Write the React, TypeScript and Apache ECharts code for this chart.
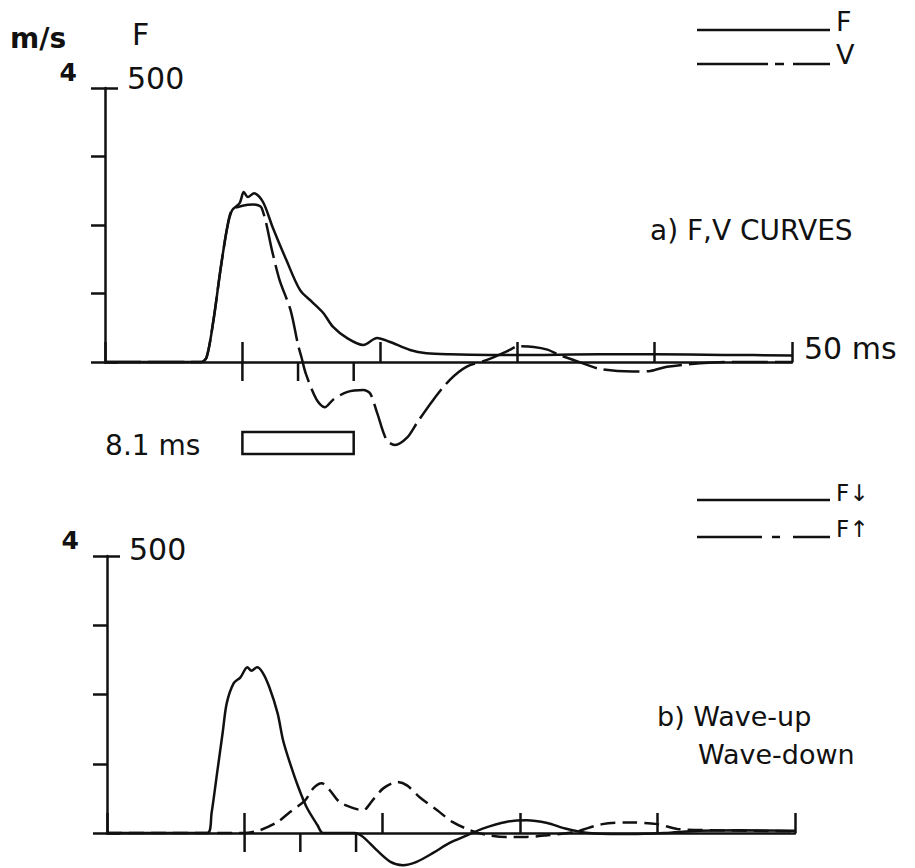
import React, { useEffect, useRef } from 'react';
import * as echarts from 'echarts';

// ---------- data (panel a: F, V curves) ----------
const tForce = [0, 7.0, 7.4, 7.9, 8.4, 8.9, 9.25, 9.8, 10.1, 10.4, 10.85, 11.5, 12.2, 13.2, 14.2, 15.1, 15.9, 16.6, 17.6, 18.8, 19.8, 20.7, 22.2, 23.4, 25.1, 28, 32, 36, 40, 45, 50];
const forceF = [0, 0, 9, 77, 168, 246, 277, 290, 310, 301, 308, 292, 246, 186, 131, 109, 89, 64, 44, 31, 44, 37, 22, 16, 14, 13, 13, 14, 14, 13, 12];

const tVel = [0, 7.0, 7.4, 7.9, 8.4, 8.9, 9.25, 10.0, 10.8, 11.4, 12.2, 12.7, 13.5, 14.05, 14.3, 14.6, 15.4, 16.0, 16.6, 17.6, 18.8, 19.3, 19.8, 20.5, 21.1, 22.0, 22.7, 23.9, 25.1, 26.3, 27.8, 29.5, 30.0, 31.2, 32.2, 33.1, 34.1, 36.0, 38.4, 39.7, 40.9, 43.3, 45.7, 50];
const velocityV = [0, 0, 0.07, 0.62, 1.34, 1.97, 2.22, 2.28, 2.30, 2.25, 1.59, 1.20, 0.76, 0.25, 0.07, -0.16, -0.55, -0.66, -0.55, -0.44, -0.41, -0.46, -0.74, -1.14, -1.21, -1.10, -0.89, -0.55, -0.26, -0.07, 0.03, 0.18, 0.23, 0.22, 0.18, 0.10, 0.03, -0.10, -0.14, -0.13, -0.07, -0.02, 0, 0];

// ---------- data (panel b: wave-down / wave-up) ----------
const tDown = [0, 7.3, 7.6, 8.0, 8.4, 8.7, 9.2, 9.7, 10.2, 10.5, 10.9, 11.3, 11.8, 12.4, 12.8, 13.3, 13.9, 14.5, 15.3, 15.7, 18.0, 18.6, 19.6, 20.6, 21.5, 22.5, 23.7, 24.9, 26.2, 27.3, 29, 30.5, 32, 33.3, 35, 38, 40.5, 43, 46, 50];
const waveDown = [0, 0, 36, 108, 180, 234, 270, 281, 299, 293, 299, 290, 263, 216, 167, 126, 83, 47, 14, 0, 0, -7, -31, -52, -58, -52, -36, -18, -4, 8, 20, 23, 18, 8, 0, -2, 0, 4, 5, 4];

const tUp = [0, 9.9, 11.1, 12.4, 13.3, 14.4, 15.0, 15.6, 16.2, 16.9, 17.9, 18.6, 19.3, 20.1, 21.1, 21.8, 22.7, 24.0, 25.1, 26.4, 27.5, 29, 30.5, 32, 34, 36, 38, 40, 41.5, 44, 47, 50];
const waveUp = [0, 0, 5, 20, 38, 59, 81, 90, 77, 56, 45, 41, 59, 81, 92, 86, 65, 41, 20, 5, -3, -7, -7, -4, 2, 16, 19, 16, 7, 5, 4, 3];

// ---------- axis / annotation values ----------
const downTicks = [10, 14.05, 18.1];
const scaleBar = [10, 18.1];
const scaleBarLabel = '8.1 ms';
const timeAxisName = '50 ms';
const velTopLabel = '4';
const forceTopLabel = '500';

const FONT = '"DejaVu Sans", sans-serif';
const INK = '#111';

const zip = (t: number[], v: number[]) => t.map((x, i) => [x, v[i]]);

function buildOption(): any {
  const xAxis = [0, 1].map((i) => ({
    gridIndex: i,
    type: 'value',
    min: 0,
    max: 50,
    interval: 10,
    axisLine: { lineStyle: { color: INK, width: 2.5 } },
    axisTick: { inside: true, length: 20, lineStyle: { color: INK, width: 2.5 } },
    axisLabel: { show: false },
    splitLine: { show: false },
    name: i === 0 ? timeAxisName : '',
    nameLocation: 'end',
    nameGap: 12,
    nameTextStyle: { fontFamily: FONT, fontSize: 30, color: INK, verticalAlign: 'bottom', lineHeight: 28 },
  }));

  const velAxis = (grid: number) => ({
    gridIndex: grid,
    type: 'value',
    position: 'left',
    offset: 0,
    min: 0,
    max: 4,
    interval: 1,
    axisLine: { show: true, lineStyle: { color: INK, width: 2.5 } },
    axisTick: { show: true, inside: false, length: 14, lineStyle: { color: INK, width: 2.5 } },
    axisLabel: {
      formatter: (v: number) => (v === 4 ? velTopLabel : ''),
      fontFamily: FONT,
      fontWeight: 'bold',
      fontSize: 25,
      color: INK,
      margin: 28,
      verticalAlign: 'bottom',
      lineHeight: 32,
    },
    splitLine: { show: false },
  });
  const forceAxis = (grid: number, lh: number) => ({
    gridIndex: grid,
    type: 'value',
    position: 'left',
    offset: 0,
    min: 0,
    max: 500,
    interval: 500,
    axisLine: { show: false },
    axisTick: { show: true, inside: true, length: 13, lineStyle: { color: INK, width: 2.5 } },
    axisLabel: {
      inside: true,
      formatter: (v: number) => (v === 500 ? forceTopLabel : ''),
      fontFamily: FONT,
      fontSize: 30,
      color: INK,
      margin: 22,
      verticalAlign: 'bottom',
      lineHeight: lh,
    },
    splitLine: { show: false },
  });

  const curve = (name: string, xi: number, yi: number, data: number[][], dash: any) => ({
    name,
    type: 'line',
    xAxisIndex: xi,
    yAxisIndex: yi,
    data,
    symbol: 'none',
    showSymbol: false,
    smooth: 0.3,
    clip: false,
    silent: true,
    lineStyle: { color: INK, width: 2.5, type: dash },
    z: 5,
  });

  const tickSeries = (xi: number, yi: number) => ({
    type: 'custom',
    xAxisIndex: xi,
    yAxisIndex: yi,
    clip: false,
    silent: true,
    data: downTicks.map((t) => [t, 0]),
    renderItem: (_p: any, api: any) => {
      const p = api.coord([api.value(0), 0]);
      return {
        type: 'line',
        shape: { x1: p[0], y1: p[1], x2: p[0], y2: p[1] + 19 },
        style: { stroke: INK, lineWidth: 2.5 },
      };
    },
  });

  const legendLine = (x1: number, x2: number, y: number) => ({
    type: 'line',
    shape: { x1, y1: y, x2, y2: y },
    style: { stroke: INK, lineWidth: 2.5 },
  });
  const txt = (text: string, x: number, y: number, font: string, align = 'left') => ({
    type: 'text',
    x,
    y,
    style: { text, font, fill: INK, align, verticalAlign: 'middle' },
  });

  return {
    animation: false,
    backgroundColor: '#fff',
    grid: [
      { left: 105, top: 88, width: 687, height: 274 },
      { left: 107, top: 556, width: 688, height: 277 },
    ],
    xAxis,
    yAxis: [velAxis(0), forceAxis(0, 20), velAxis(1), forceAxis(1, 14)],
    series: [
      curve('F', 0, 1, zip(tForce, forceF), 'solid'),
      curve('V', 0, 0, zip(tVel, velocityV), [36, 7]),
      curve('F↓', 1, 3, zip(tDown, waveDown), 'solid'),
      curve('F↑', 1, 3, zip(tUp, waveUp), [15, 7]),
      tickSeries(0, 1),
      tickSeries(1, 3),
      {
        type: 'custom',
        xAxisIndex: 0,
        yAxisIndex: 1,
        clip: false,
        silent: true,
        data: [[scaleBar[0], scaleBar[1]]],
        renderItem: (_p: any, api: any) => {
          const a = api.coord([api.value(0), 0]);
          const b = api.coord([api.value(1), 0]);
          return {
            type: 'group',
            children: [
              {
                type: 'rect',
                shape: { x: a[0], y: a[1] + 70, width: b[0] - a[0], height: 22 },
                style: { fill: '#fff', stroke: INK, lineWidth: 2.5 },
              },
              {
                type: 'text',
                style: {
                  text: scaleBarLabel,
                  x: a[0] - 42,
                  y: a[1] + 83,
                  align: 'right',
                  verticalAlign: 'middle',
                  font: `28px ${FONT}`,
                  fill: INK,
                },
              },
            ],
          };
        },
      },
    ],
    graphic: [
      txt('m/s', 10, 38, `bold 28px ${FONT}`),
      txt('F', 132, 34, `30px ${FONT}`),
      // legend panel a
      legendLine(697, 830, 30),
      txt('F', 836, 21, `27px ${FONT}`),
      legendLine(697, 768, 64),
      legendLine(775, 784, 64),
      legendLine(793, 830, 64),
      txt('V', 836, 54, `27px ${FONT}`),
      // legend panel b
      legendLine(697, 830, 500),
      txt('F↓', 836, 493, `23px ${FONT}`),
      legendLine(697, 762, 537),
      legendLine(772, 780, 537),
      legendLine(793, 830, 537),
      txt('F↑', 836, 529, `23px ${FONT}`),
      // panel titles
      txt('a) F,V CURVES', 650, 230, `28px ${FONT}`),
      txt('b) Wave-up', 657, 716, `27px ${FONT}`),
      txt('Wave-down', 698, 754, `27px ${FONT}`),
    ],
  };
}

export default function App() {
  const ref = useRef<HTMLDivElement>(null);
  useEffect(() => {
    if (!ref.current) return;
    const chart = echarts.init(ref.current, null, { renderer: 'svg' });
    chart.setOption(buildOption());
    return () => chart.dispose();
  }, []);
  return (
    <div
      ref={ref}
      style={{ position: 'fixed', left: 0, top: 0, width: 915, height: 868, background: '#fff' }}
    />
  );
}
